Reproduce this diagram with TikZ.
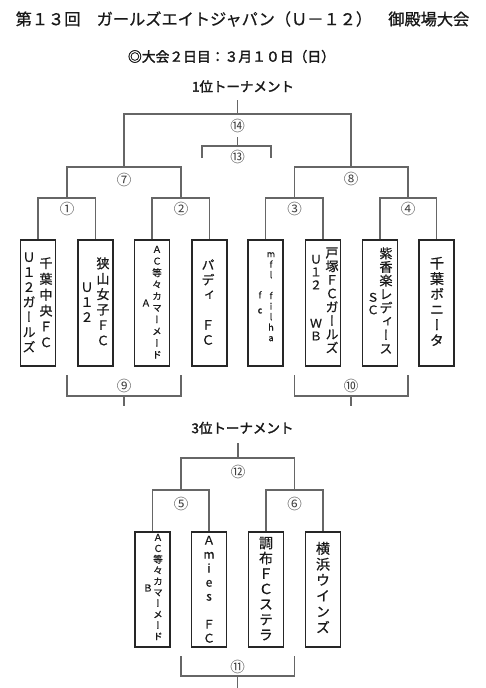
\documentclass[tikz,border=0pt]{standalone}
\usepackage{fontspec}
\setmainfont{Noto Sans CJK JP}[AutoFakeBold=2]
\newfontfamily\jpv{Noto Sans CJK JP}[RawFeature=+vert, FakeBold=0.7]
\newfontfamily\jpt{Noto Sans CJK JP}[FakeBold=0.8]
\newcommand\vcol[6]{\node[vc, font=\jpv\fontsize{#3}{#4}\selectfont] (#6) at (#1,{#2-0.45*#3}) {#5};}
\begin{document}
\begin{tikzpicture}[x=1pt,y=-1pt]
\tikzset{
  br/.style={draw=black!60, line width=1.1pt},
  box/.style={draw=black!85, line width=1.2pt, inner sep=0, minimum width=35pt},
  topbox/.style={box, minimum height=126pt},
  lowbox/.style={box, minimum height=115pt},
  num/.style={font=\fontsize{14.5}{14.5}\selectfont, text=black!75, inner sep=0.5pt},
  vc/.style={inner sep=0, align=center, anchor=north, text=black!90, execute at begin node=\vphantom{国}},
  ttl/.style={inner sep=0, text=black!90}
}
\useasboundingbox (0,0) rectangle (485,688);
% titles
\node[ttl, font=\jpt\fontsize{16.2}{16.2}\selectfont] (title) at (242.5,19) {第１３回　ガールズエイトジャパン（Ｕ－１２）　御殿場大会};
\node[ttl, font=\bfseries\fontsize{13.8}{13.8}\selectfont] (sub) at (231.5,56.5) {◎大会２日目：３月１０日（日）};
\node[ttl, font=\bfseries\fontsize{13.5}{13.5}\selectfont] (t1) at (243,86.5) {1位トーナメント};
\node[ttl, font=\bfseries\fontsize{13.5}{13.5}\selectfont] (t3) at (242.5,428) {3位トーナメント};

% boxes, 1st tournament
\node[topbox] (b1) at (38,303) {};
\node[topbox] (b2) at (95.5,303) {};
\node[topbox] (b3) at (152,303) {};
\node[topbox] (b4) at (209.5,303) {};
\node[topbox] (b5) at (265.5,303) {};
\node[topbox] (b6) at (323,303) {};
\node[topbox] (b7) at (380,303) {};
\node[topbox] (b8) at (436.5,303) {};
% boxes, 3rd tournament
\node[lowbox] (c1) at (152.5,589.5) {};
\node[lowbox] (c2) at (209,589.5) {};
\node[lowbox] (c3) at (266,589.5) {};
\node[lowbox] (c4) at (323,589.5) {};

% team names (vertical)
\vcol{46}{263}{13}{15.8}{千\\葉\\中\\央\\Ｆ\\Ｃ}{b1r}
\vcol{29}{258}{13}{15}{Ｕ\\１\\２\\ガ\\ー\\ル\\ズ}{b1l}
\vcol{103}{263}{13}{15.4}{狭\\山\\女\\子\\Ｆ\\Ｃ}{b2r}
\vcol{87}{288}{13}{15}{Ｕ\\１\\２}{b2l}
\vcol{157}{250}{9.5}{11.7}{Ａ\\Ｃ\\等\\々\\カ\\マ\\ー\\メ\\ー\\ド}{b3r}
\vcol{146}{303}{9.5}{11.7}{Ａ}{b3l}
\vcol{208}{265}{13}{15}{パ\\デ\\ィ\\　\\Ｆ\\Ｃ}{b4c}
\vcol{271}{256}{9}{10.5}{m\\f\\l\\　\\f\\i\\l\\h\\a}{b5r}
\vcol{260}{295}{9}{15}{f\\c}{b5l}
\vcol{332}{253}{13}{13.6}{戸\\塚\\Ｆ\\Ｃ\\ガ\\ー\\ル\\ズ}{b6r}
\vcol{316}{260}{12}{12.8}{Ｕ\\１\\２\\　\\　\\Ｗ\\Ｂ}{b6l}
\vcol{386}{253}{13}{13.6}{紫\\香\\楽\\レ\\デ\\ィ\\ー\\ス}{b7r}
\vcol{373}{298}{12}{12.5}{Ｓ\\Ｃ}{b7l}
\vcol{437}{263}{14}{15.4}{千\\葉\\ボ\\ニ\\ー\\タ}{b8c}
\vcol{158}{538}{9.5}{11}{Ａ\\Ｃ\\等\\々\\カ\\マ\\ー\\メ\\ー\\ド}{c1r}
\vcol{148}{588}{9.5}{11}{Ｂ}{c1l}
\vcol{209}{541}{12}{14}{Ａ\\m\\i\\e\\s\\　\\Ｆ\\Ｃ}{c2c}
\vcol{266}{543}{14}{15.3}{調\\布\\Ｆ\\Ｃ\\ス\\テ\\ラ}{c3c}
\vcol{323}{548}{14}{15.8}{横\\浜\\ウ\\イ\\ン\\ズ}{c4c}

% junction coordinates, 1st tournament
\coordinate (j1) at (67,198);
\coordinate (j2) at (181,198);
\coordinate (j3) at (294.5,198);
\coordinate (j4) at (408,198);
\coordinate (j7) at (124,167);
\coordinate (j8) at (351,167);
\coordinate (j14) at (237.5,114);
\coordinate (t14) at (237.5,100);
\coordinate (j13) at (237.5,146);
\coordinate (k13l) at (202,158);
\coordinate (k13r) at (271,158);

\draw[br] (b1.north) |- (j1) -| (b2.north);
\draw[br] (b3.north) |- (j2) -| (b4.north);
\draw[br] (b5.north) |- (j3) -| (b6.north);
\draw[br] (b7.north) |- (j4) -| (b8.north);
\draw[br] (j1) |- (j7) -| (j2);
\draw[br] (j3) |- (j8) -| (j4);
\draw[br] (j7) |- (j14) -| (j8);
\draw[br] (t14) -- (j14);

\node[num] (m1) at (67,209) {①};
\node[num] (m2) at (181,209) {②};
\node[num] (m3) at (294.5,209) {③};
\node[num] (m4) at (408,209) {④};
\node[num] (m7) at (124,180) {⑦};
\node[num] (m8) at (351,179) {⑧};
\node[num] (m14) at (237.5,125.5) {⑭};
\node[num] (m13) at (237.5,157) {⑬};

\coordinate (u14) at (237.5,137);
\draw[br] (u14) -- (j13);
\draw[br] (k13l) |- (j13) -| (k13r);

% lower brackets 9, 10
\coordinate (n9l) at (67,375);
\coordinate (n9r) at (181,375);
\coordinate (n9) at (124,396);
\coordinate (n9d) at (124,406);
\coordinate (n10l) at (294.5,375);
\coordinate (n10r) at (408,375);
\coordinate (n10) at (351,396);
\coordinate (n10d) at (351,406);
\draw[br] (n9l) |- (n9) -| (n9r);
\draw[br] (n9) -- (n9d);
\draw[br] (n10l) |- (n10) -| (n10r);
\draw[br] (n10) -- (n10d);
\node[num] (m9) at (124,386) {⑨};
\node[num] (m10) at (351,386) {⑩};

% 3rd tournament
\coordinate (j5) at (181,490);
\coordinate (j6) at (294.5,490);
\coordinate (j12) at (238,458);
\coordinate (t12) at (238,443);
\draw[br] (c1.north) |- (j5) -| (c2.north);
\draw[br] (c3.north) |- (j6) -| (c4.north);
\draw[br] (j5) |- (j12) -| (j6);
\draw[br] (t12) -- (j12);
\node[num] (m5) at (181,504) {⑤};
\node[num] (m6) at (294.5,504) {⑥};
\node[num] (m12) at (238,472) {⑫};

\coordinate (n11l) at (181,656);
\coordinate (n11r) at (294.5,656);
\coordinate (n11) at (237.5,676);
\coordinate (n11d) at (237.5,688);
\draw[br] (n11l) |- (n11) -| (n11r);
\draw[br] (n11) -- (n11d);
\node[num] (m11) at (237.5,666.5) {⑪};
\end{tikzpicture}
\end{document}
